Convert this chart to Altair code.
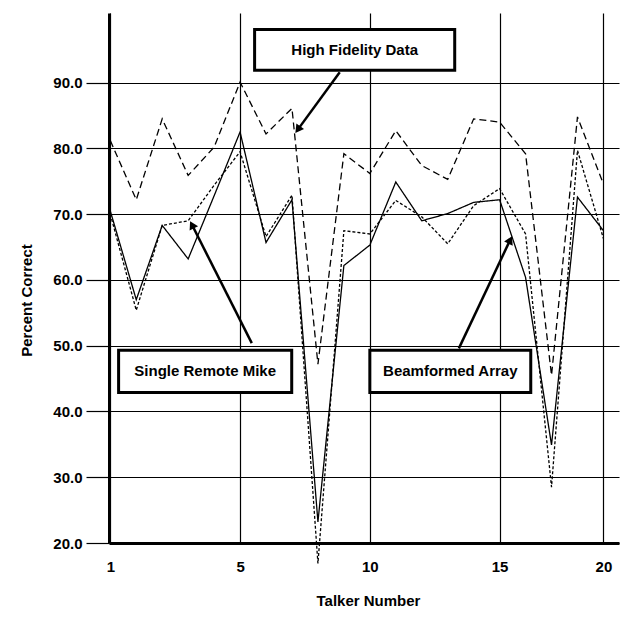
import math
import altair as alt
import pandas as pd

# ---------------- data ----------------
talker = list(range(1, 21))
high_fidelity = [81.2, 72.2, 84.5, 75.9, 80.2, 90.1, 82.2, 86.1, 47.2, 79.2,
                 76.2, 82.7, 77.4, 75.3, 84.5, 84.0, 79.2, 45.5, 84.8, 74.6]
single_remote = [70.0, 55.4, 68.3, 69.0, 74.4, 79.5, 66.6, 72.9, 16.9, 67.5,
                 67.0, 72.1, 69.6, 65.5, 71.3, 73.9, 67.0, 28.5, 79.7, 66.3]
beamformed = [70.5, 57.0, 68.3, 63.2, 72.8, 82.5, 65.7, 72.2, 23.2, 62.2,
              65.3, 74.9, 69.0, 70.1, 71.8, 72.2, 60.4, 34.9, 72.6, 67.5]
series_names = ["High Fidelity Data", "Single Remote Mike", "Beamformed Array"]

x_tick_pos = [1, 6, 11, 16, 20]
x_tick_text = ["1", "5", "10", "15", "20"]
y_ticks = [20, 30, 40, 50, 60, 70, 80, 90]

# annotation boxes and arrows (data units)
ann_text = ["High Fidelity Data", "Single Remote Mike", "Beamformed Array"]
box_x1 = [6.56, 1.32, 11.0]
box_x2 = [14.27, 7.99, 17.2]
box_y1 = [91.9, 42.9, 42.9]
box_y2 = [98.1, 49.3, 49.3]
arr_x_from = [9.84, 6.45, 14.43]
arr_y_from = [91.6, 50.4, 49.6]
arr_x_to = [8.11, 4.06, 16.49]
arr_y_to = [82.25, 69.07, 66.78]

# ---------------- layout ----------------
X_DOM = [0.95, 20.6]
Y_DOM = [20, 100.6]
W, H = 510, 530
PX_X = W / (X_DOM[1] - X_DOM[0])
PX_Y = H / (Y_DOM[1] - Y_DOM[0])
FONT = "Liberation Sans"

long_rows = []
for name, vals in zip(series_names, [high_fidelity, single_remote, beamformed]):
    for t, v in zip(talker, vals):
        long_rows.append({"talker": t, "pct": v, "series": name})
df = pd.DataFrame(long_rows)

# arrow geometry
heads = []
for xf, yf, xt, yt in zip(arr_x_from, arr_y_from, arr_x_to, arr_y_to):
    dxp = (xt - xf) * PX_X
    dyp = -(yt - yf) * PX_Y
    L = math.hypot(dxp, dyp)
    ux, uy = dxp / L, dyp / L
    ang = math.degrees(math.atan2(ux, -uy)) % 360
    xh = xt - 5 * ux / PX_X
    yh = yt + 5 * uy / PX_Y
    heads.append((xh, yh, ang))

ann = pd.DataFrame({
    "text": ann_text,
    "x1": box_x1, "x2": box_x2, "y1": box_y1, "y2": box_y2,
    "xc": [(a + b) / 2 for a, b in zip(box_x1, box_x2)],
    "yc": [(a + b) / 2 for a, b in zip(box_y1, box_y2)],
    "ax": arr_x_from, "ay": arr_y_from,
    "hx": [h[0] for h in heads], "hy": [h[1] for h in heads],
    "ang": [h[2] for h in heads],
})

x_scale = alt.Scale(domain=X_DOM, nice=False, zero=False)
y_scale = alt.Scale(domain=Y_DOM, nice=False, zero=False)

label_expr = " : ".join(f"datum.value == {p} ? '{t}'" for p, t in zip(x_tick_pos, x_tick_text)) + " : ''"

x_axis = alt.Axis(
    values=x_tick_pos, labelExpr=label_expr, grid=True, gridColor="black",
    gridWidth=1.2, gridOpacity=1, ticks=False, domainColor="black", domainWidth=3,
    labelFont=FONT, labelFontSize=15, labelFontWeight="bold", labelColor="black",
    labelPadding=16, title="Talker Number", titleFont=FONT, titleFontSize=15,
    titleFontWeight="bold", titleColor="black", titleX=259, titleY=57,
    titleBaseline="middle", titleAlign="center",
)
y_axis = alt.Axis(
    values=y_ticks, format=".1f", grid=True, gridColor="black", gridWidth=1.2,
    gridOpacity=1, ticks=True, tickSize=23, tickColor="black", tickWidth=1.2,
    domainColor="black", domainWidth=3, labelFont=FONT, labelFontSize=15,
    labelFontWeight="bold", labelColor="black", labelPadding=4,
    title="Percent Correct", titleFont=FONT, titleFontSize=15,
    titleFontWeight="bold", titleColor="black", titleAngle=270,
    titleX=-83, titleY=287, titleBaseline="middle", titleAlign="center",
)


def X(field):
    return alt.X(field, type="quantitative", scale=x_scale, axis=x_axis)


def Y(field):
    return alt.Y(field, type="quantitative", scale=y_scale, axis=y_axis)


lines = alt.Chart(df).mark_line(color="black").encode(
    x=X("talker"),
    y=Y("pct"),
    strokeDash=alt.StrokeDash("series:N", scale=alt.Scale(domain=series_names, range=[[7, 4], [3, 2], [1, 0]]), legend=None),
    strokeWidth=alt.StrokeWidth("series:N", scale=alt.Scale(domain=series_names, range=[1.3, 1.3, 1.5]), legend=None),
    detail="series:N",
)

annb = alt.Chart(ann)
boxes = annb.mark_rect(fill="white", stroke="black", strokeWidth=3).encode(
    x=X("x1"), x2="x2:Q", y=Y("y1"), y2="y2:Q",
)
texts = annb.mark_text(font=FONT, fontSize=15, fontWeight="bold", color="black",
                       align="center", baseline="middle").encode(
    x=X("xc"), y=Y("yc"), text="text:N",
)
arrows = annb.mark_rule(color="black", strokeWidth=2.5).encode(
    x=X("ax"), x2="hx:Q", y=Y("ay"), y2="hy:Q",
)
arrowheads = annb.mark_point(shape="triangle-up", filled=True, color="black", size=90, opacity=1).encode(
    x=X("hx"), y=Y("hy"),
    angle=alt.Angle("ang:Q", scale=None),
)

chart = alt.layer(lines, boxes, texts, arrows, arrowheads).properties(
    width=W, height=H,
    autosize=alt.AutoSizeParams(type="none"),
    padding={"left": 101, "top": 5, "right": 5, "bottom": 64},
).configure_view(stroke=None)

chart.save("out.html", embed_options={"renderer": "svg", "actions": False})
